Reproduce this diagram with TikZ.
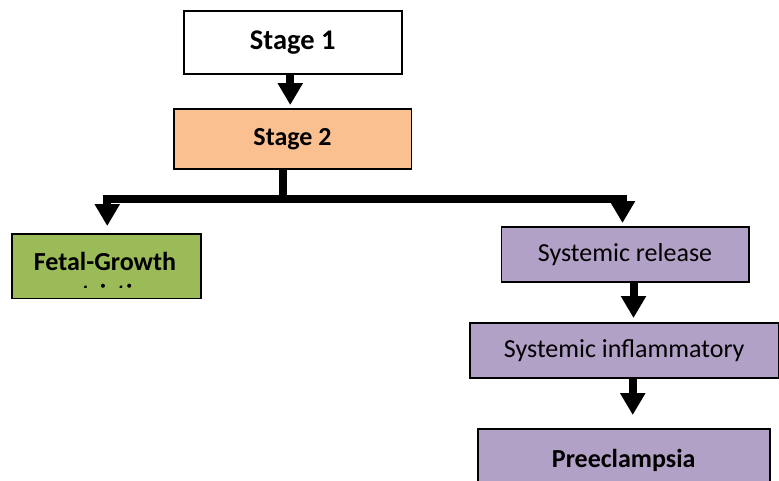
\documentclass[tikz,border=0pt]{standalone}
\usepackage{fontspec}
\setmainfont{Carlito}
\usetikzlibrary{arrows.meta}
\definecolor{orangebox}{HTML}{FAC090}
\definecolor{greenbox}{HTML}{9BBB59}
\definecolor{purplebox}{HTML}{B2A1C7}
\begin{document}
\begin{tikzpicture}[x=1pt,y=-1pt,
  box/.style={draw=black,line width=1.5pt,inner sep=0pt,anchor=north west},
  conn/.style={line width=8pt,-{Triangle[width=24pt,length=22pt]}},
  bar/.style={line width=8pt},
  txt/.style={font=\fontsize{26}{31.7}\selectfont},
  btxt/.style={font=\fontsize{26}{31.7}\selectfont\bfseries}]
\useasboundingbox (0,0) rectangle (779,480);
\clip (0,0) rectangle (779,480);
% boxes
\node[box,fill=white,minimum width=218pt,minimum height=63pt,
  font=\fontsize{28.5}{34}\selectfont\bfseries] (s1) at (183,10) {Stage 1};
\node[box,fill=orangebox,minimum width=237.5pt,minimum height=60pt,btxt] (s2) at (173,108) {Stage 2};
\node[box,fill=greenbox,minimum width=189pt,minimum height=64.5pt] (fgr) at (11,233) {};
\begin{scope}
  \clip (12,234) rectangle (199,287.5);
  \node[btxt,anchor=base,inner sep=0pt] (fgrt1) at (105,270.7) {Fetal-Growth};
  \node[btxt,anchor=base,inner sep=0pt] (fgrt2) at (105,302) {restriction};
\end{scope}
\node[box,fill=purplebox,minimum width=247.5pt,minimum height=55pt,txt] (sr) at (500.5,226) {Systemic release};
\node[box,fill=purplebox,minimum width=309pt,minimum height=55pt,txt] (si) at (469,322) {Systemic inflammatory};
\node[box,fill=purplebox,minimum width=292pt,minimum height=64pt,btxt] (pre) at (477,428) {Preeclampsia};
% connectors
\draw[conn,shorten >=3pt] ([xshift=-2.5pt]s1.south) -- ([xshift=-2.5pt]s1.south |- s2.north);
\coordinate (j) at ([xshift=-10pt,yshift=-29pt]s2.south);
\draw[bar] ([xshift=-10pt]s2.south) -- (j);
\draw[conn,shorten >=7pt] (j) -| ([xshift=1pt]fgr.north);
\draw[conn,shorten >=3pt] (j) -| ([xshift=-2.5pt]sr.north);
\draw[conn,shorten >=4pt] ([xshift=8.5pt]sr.south) -- ([xshift=8.5pt]sr.south |- si.north);
\draw[conn,shorten >=13pt] ([xshift=8.5pt]si.south) -- ([xshift=8.5pt]si.south |- pre.north);
\end{tikzpicture}
\end{document}
